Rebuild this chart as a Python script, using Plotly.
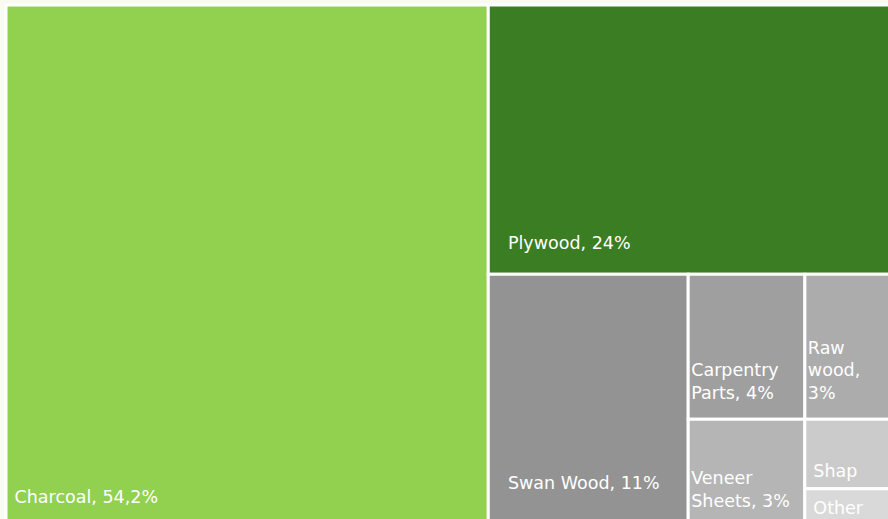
import plotly.graph_objects as go

# ---- data ----
categories = ["Charcoal", "Plywood", "Swan Wood", "Carpentry Parts", "Raw wood",
              "Veneer Sheets", "Shap", "Other"]
values = [54.5, 23.7, 10.8, 3.7, 2.7, 2.6, 1.3, 0.6]
label_lines = [["Charcoal, 54,2%"], ["Plywood, 24%"], ["Swan Wood, 11%"],
               ["Carpentry", "Parts, 4%"], ["Raw", "wood,", "3%"],
               ["Veneer", "Sheets, 3%"], ["Shap"], ["Other"]]
colors = ["#92d050", "#3b7d23", "#939393", "#a09fa0", "#acacac",
          "#b5b5b5", "#cbcbcb", "#d9d9d9"]

# ---- label placement (style only) ----
FONT_SIZE = 17.5
lead_pad = [1, 3, 3, 0, 0, 0, 1, 1]          # leading spaces
lift_size = [64, 92, 121, 73, 73, 45, 39, 0]  # invisible strut size to lift text

def fmt(lines, pad, strut):
    p = "\u00a0" * pad
    s = "<br>".join(p + ln for ln in lines)
    if strut:
        s += "<span style='font-size:%dpx'>\u200a</span>" % strut
    return s

texts = [fmt(l, p, s) for l, p, s in zip(label_lines, lead_pad, lift_size)]

fig = go.Figure(go.Treemap(
    labels=categories,
    parents=[""] * len(categories),
    values=values,
    text=texts,
    texttemplate="%{text}",
    textposition="bottom left",
    sort=True,
    marker=dict(colors=colors, line=dict(color="white", width=3),
                pad=dict(t=0, l=0, r=0, b=0)),
    tiling=dict(packing="squarify", squarifyratio=1, pad=0),
    textfont=dict(family="DejaVu Sans", size=FONT_SIZE, color="white"),
    pathbar=dict(visible=False),
    hoverinfo="label+value",
))
fig.update_layout(
    width=890, height=521,
    margin=dict(l=6, r=0, t=5, b=0, pad=0),
    paper_bgcolor="#f9faf0",
)
fig.write_html("out.html", config={"displayModeBar": False},
               post_script="document.body.style.margin='0';document.body.style.overflow='hidden';")
